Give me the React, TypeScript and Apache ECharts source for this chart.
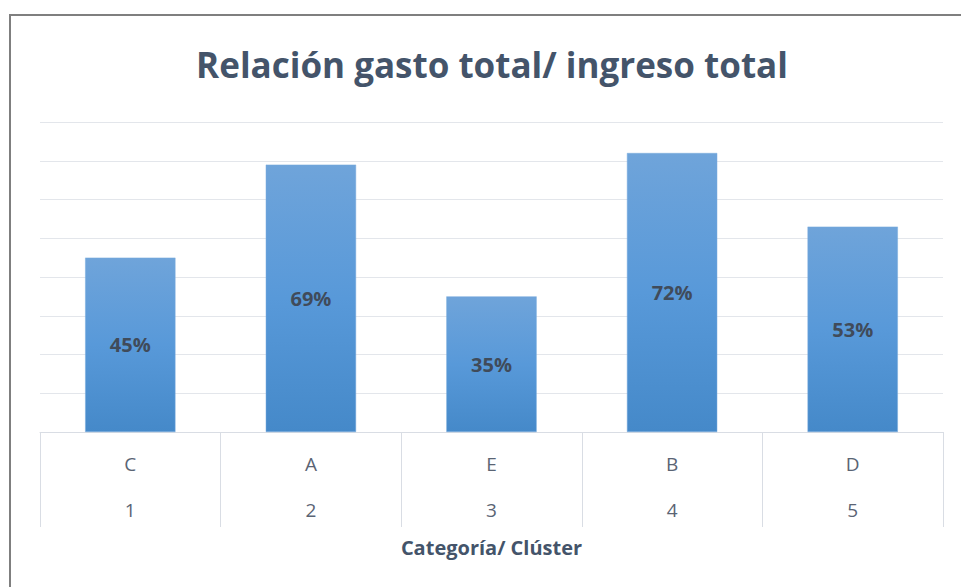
import React, { useEffect, useRef } from "react";
import * as echarts from "echarts";

const categories = ["C", "A", "E", "B", "D"];
const clusters = ["1", "2", "3", "4", "5"];
const ratios = [0.45, 0.69, 0.35, 0.72, 0.53];
const titleText = "Relación gasto total/ ingreso total";
const axisTitle = "Categoría/ Clúster";

export default function App() {
  const ref = useRef<HTMLDivElement>(null);
  useEffect(() => {
    if (!ref.current) return;
    const chart = echarts.init(ref.current, null, { renderer: "svg" });
    const font = "'Open Sans', 'Noto Sans', sans-serif";
    chart.setOption({
      animation: false,
      backgroundColor: "#ffffff",
      textStyle: { fontFamily: font },
      graphic: [
        {
          type: "rect",
          shape: { x: 10, y: 15, width: 980, height: 600 },
          style: { fill: "none", stroke: "#7f7f7f", lineWidth: 2 },
          silent: true,
        },
        {
          type: "text",
          x: 492,
          y: 64,
          style: {
            text: titleText,
            align: "center",
            verticalAlign: "middle",
            font: "bold 35px 'Open Sans', sans-serif",
            fill: "#44546a",
          },
          silent: true,
        },
      ],
      grid: { left: 40, right: 18, top: 122, bottom: 155 },
      xAxis: {
        type: "category",
        data: categories.map((c, i) => c + "\n" + clusters[i]),
        axisLine: { lineStyle: { color: "#d9dde4", width: 1 } },
        axisTick: { show: true, interval: 0, length: 95, lineStyle: { color: "#d9dde4" } },
        axisLabel: {
          interval: 0,
          margin: 9,
          fontFamily: font,
          fontSize: 19,
          color: "#5a6474",
          lineHeight: 46,
        },
        name: axisTitle,
        nameLocation: "middle",
        nameGap: 104,
        nameTextStyle: { fontFamily: font, fontSize: 20, fontWeight: "bold", color: "#44546a" },
      },
      yAxis: {
        type: "value",
        min: 0,
        max: 0.8,
        interval: 0.1,
        axisLabel: { show: false },
        axisLine: { show: false },
        axisTick: { show: false },
        splitLine: { lineStyle: { color: "#e3e6eb", width: 1 } },
      },
      series: [
        {
          type: "bar",
          data: ratios,
          barWidth: "50%",
          itemStyle: {
            color: new echarts.graphic.LinearGradient(0, 0, 0, 1, [
              { offset: 0, color: "#6fa4da" },
              { offset: 0.5, color: "#5899d9" },
              { offset: 1, color: "#4589c9" },
            ]),
            borderColor: "#78aadd",
            borderWidth: 0.5,
          },
          label: {
            show: true,
            position: "inside",
            fontFamily: font,
            fontSize: 20,
            fontWeight: "bold",
            color: "#404b5a",
            formatter: (p: any) => Math.round(p.value * 100) + "%",
          },
        },
      ],
    });
    return () => chart.dispose();
  }, []);
  return (
    <div
      ref={ref}
      style={{ position: "fixed", left: 0, top: 0, width: 961, height: 587 }}
    />
  );
}
